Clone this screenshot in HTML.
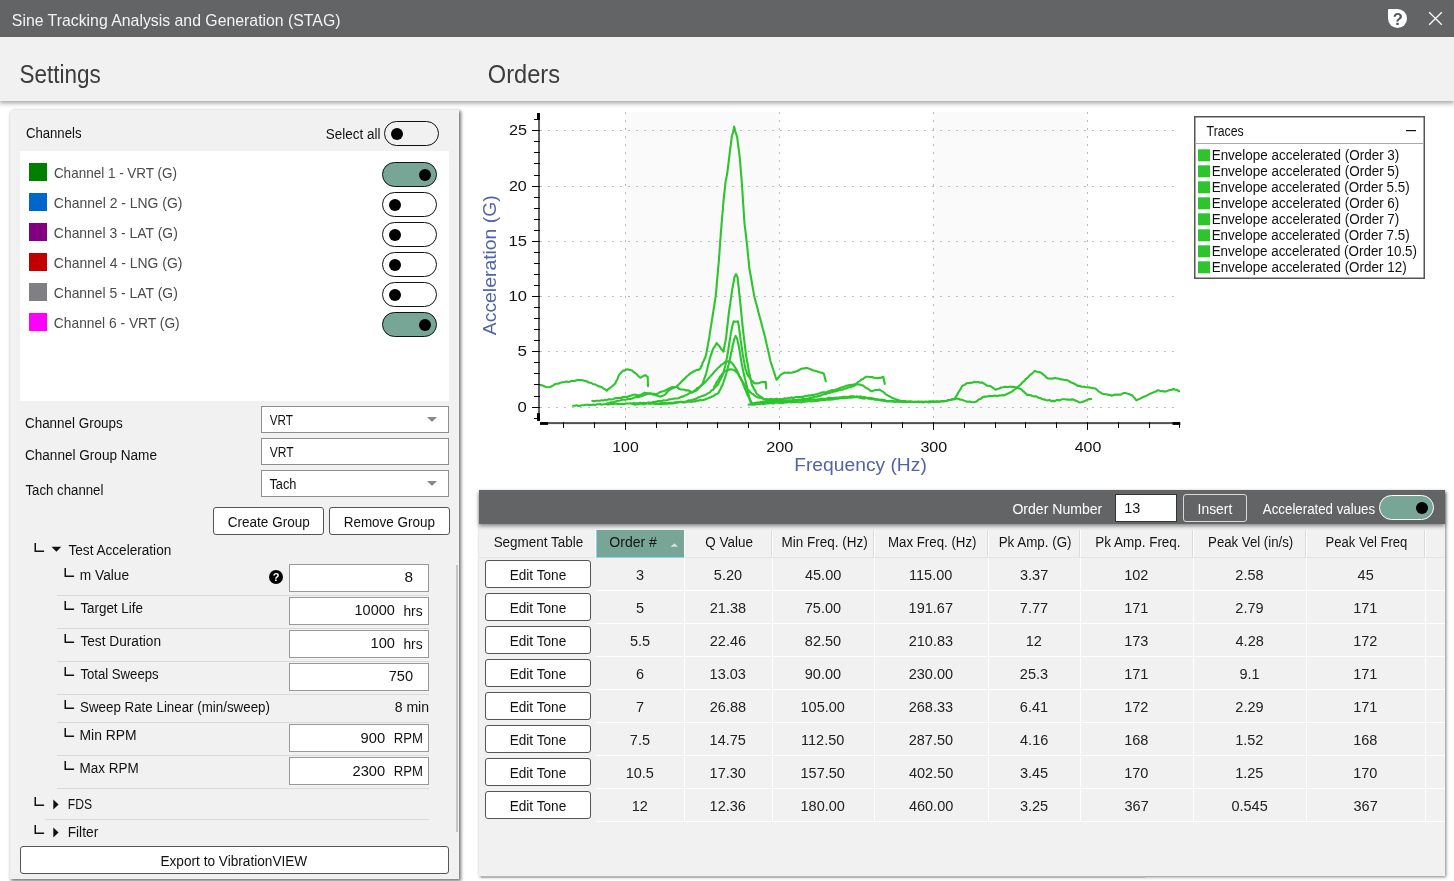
<!DOCTYPE html>
<html><head><meta charset="utf-8"><title>STAG</title>
<style>
*{box-sizing:border-box;margin:0;padding:0}
html,body{width:1454px;height:881px;overflow:hidden;background:#fff}
body{position:relative;font-family:"Liberation Sans",sans-serif;font-size:14px;color:#111}
#root{position:absolute;left:0;top:0;width:1454px;height:881px;will-change:transform}
.abs{position:absolute}
.t{position:absolute;white-space:nowrap;line-height:1;transform-origin:0 50%}
#titlebar{left:0;top:0;width:1454px;height:37px;background:#636466;z-index:2}
#header{left:0;top:37px;width:1454px;height:64px;background:#f1f1f1;box-shadow:0 1px 5px 1px rgba(0,0,0,.38)}
#settings{left:10px;top:110px;width:449px;height:768.5px;background:#f1f1f1;box-shadow:1.5px 1.5px 3.5px rgba(0,0,0,.55);border-radius:4px 0 0 0}
#chlist{left:20px;top:151px;width:429px;height:250px;background:#fff}
.sw{position:absolute;left:29px;width:18px;height:18px}
.tog{position:absolute;width:55px;height:25px;border:1px solid #111;border-radius:13px;background:#fff}
.tog i{position:absolute;top:5.5px;left:6px;width:12px;height:12px;border-radius:50%;background:#000}
.tog.on{background:#77a697}
.tog.on i{left:36px}
.box{position:absolute;background:#fff;border:1px solid #8e8e8e}
.btn{position:absolute;background:#fff;border:1px solid #555;border-radius:3px}
.sep{position:absolute;height:1px;background:#d9d9d9}
.arrow{position:absolute;width:0;height:0;border-left:5px solid transparent;border-right:5px solid transparent;border-top:5px solid #8a8a8a}
</style></head>
<body>
<div id="root">
<div id="titlebar" class="abs"></div>
<div class="t" style="left:11px;top:11px;font-size:17px;color:#f4f4f4;transform:translate(0.84px,0.50px) scaleX(0.9308);z-index:3;">Sine Tracking Analysis and Generation (STAG)</div>
<div class="abs" style="z-index:3;left:1388px;top:9px;width:19px;height:19px;background:#fff;border-radius:1px 10px 10px 10px"></div>
<div class="t" style="left:1392px;top:10px;font-size:16.5px;color:#55565a;transform:translate(0.65px,0.95px) scaleX(1.0000);font-weight:bold;z-index:3;">?</div>
<svg class="abs" style="z-index:3;left:1426px;top:9px" width="20" height="20" viewBox="0 0 20 20"><path d="M3.2 3.2 L15.8 15.8 M15.8 3.2 L3.2 15.8" stroke="#fff" stroke-width="1.3" fill="none"/></svg>
<div id="header" class="abs"></div>
<div class="t" style="left:19px;top:61px;font-size:25.5px;color:#3c3c3c;transform:translate(0.54px,0.76px) scaleX(0.8819);">Settings</div>
<div class="t" style="left:487px;top:61px;font-size:25.5px;color:#3c3c3c;transform:translate(0.79px,0.76px) scaleX(0.9267);">Orders</div>
<div id="settings" class="abs"></div>
<div class="t" style="left:25px;top:125px;font-size:14px;color:#111;transform:translate(0.89px,0.57px) scaleX(0.9403);">Channels</div>
<div class="t" style="left:325px;top:127px;font-size:14px;color:#111;transform:translate(0.85px,0.17px) scaleX(0.9602);">Select all</div>
<div class="tog" style="left:384px;top:121px;background:transparent"><i></i></div>
<div id="chlist" class="abs"></div>
<div class="sw" style="top:163px;background:#008000"></div>
<div class="t" style="left:53px;top:165px;font-size:14.6px;color:#4a4a4a;transform:translate(0.88px,0.78px) scaleX(0.9244);">Channel 1 - VRT (G)</div>
<div class="tog on" style="left:382px;top:162px"><i></i></div>
<div class="sw" style="top:193px;background:#0066cc"></div>
<div class="t" style="left:53px;top:195px;font-size:14.6px;color:#4a4a4a;transform:translate(0.85px,0.78px) scaleX(0.9553);">Channel 2 - LNG (G)</div>
<div class="tog" style="left:382px;top:192px"><i></i></div>
<div class="sw" style="top:223px;background:#800080"></div>
<div class="t" style="left:53px;top:225px;font-size:14.6px;color:#4a4a4a;transform:translate(0.85px,0.78px) scaleX(0.9529);">Channel 3 - LAT (G)</div>
<div class="tog" style="left:382px;top:222px"><i></i></div>
<div class="sw" style="top:253px;background:#c00000"></div>
<div class="t" style="left:53px;top:255px;font-size:14.6px;color:#4a4a4a;transform:translate(0.85px,0.78px) scaleX(0.9553);">Channel 4 - LNG (G)</div>
<div class="tog" style="left:382px;top:252px"><i></i></div>
<div class="sw" style="top:283px;background:#808084"></div>
<div class="t" style="left:53px;top:285px;font-size:14.6px;color:#4a4a4a;transform:translate(0.85px,0.78px) scaleX(0.9529);">Channel 5 - LAT (G)</div>
<div class="tog" style="left:382px;top:282px"><i></i></div>
<div class="sw" style="top:313px;background:#ff00ff"></div>
<div class="t" style="left:53px;top:315px;font-size:14.6px;color:#4a4a4a;transform:translate(0.86px,0.78px) scaleX(0.9441);">Channel 6 - VRT (G)</div>
<div class="tog on" style="left:382px;top:312px"><i></i></div>
<div class="t" style="left:24px;top:416px;font-size:14px;color:#111;transform:translate(0.98px,0.27px) scaleX(0.9590);">Channel Groups</div>
<div class="t" style="left:24px;top:448px;font-size:14px;color:#111;transform:translate(0.97px,0.27px) scaleX(0.9689);">Channel Group Name</div>
<div class="t" style="left:25px;top:483px;font-size:14px;color:#111;transform:translate(0.49px,0.27px) scaleX(0.9442);">Tach channel</div>
<div class="box" style="left:261px;top:406px;width:188px;height:27px"></div>
<div class="box" style="left:261px;top:438px;width:188px;height:27px"></div>
<div class="box" style="left:261px;top:470px;width:188px;height:27px"></div>
<div class="t" style="left:269px;top:413px;font-size:14px;color:#111;transform:translate(0.65px,0.17px) scaleX(0.8345);">VRT</div>
<div class="t" style="left:269px;top:445px;font-size:14px;color:#111;transform:translate(0.65px,0.07px) scaleX(0.8601);">VRT</div>
<div class="t" style="left:269px;top:477px;font-size:14px;color:#111;transform:translate(0.39px,0.37px) scaleX(0.9148);">Tach</div>
<div class="arrow" style="left:427px;top:417px"></div>
<div class="arrow" style="left:427px;top:481px"></div>
<div class="btn" style="left:213px;top:507px;width:111px;height:28px"></div>
<div class="btn" style="left:329px;top:507px;width:121px;height:28px"></div>
<div class="t" style="left:227px;top:515px;font-size:14px;color:#111;transform:translate(0.77px,0.27px) scaleX(0.9667);">Create Group</div>
<div class="t" style="left:343px;top:515px;font-size:14px;color:#111;transform:translate(0.67px,0.27px) scaleX(0.9620);">Remove Group</div>
<svg class="abs" style="left:34px;top:543px" width="11" height="10" viewBox="0 0 11 10"><path d="M1.25 0 V8.35 H10.1" stroke="#111" stroke-width="1.5" fill="none"/></svg>
<svg class="abs" style="left:51px;top:546px" width="11" height="7"><path d="M0.5 0.8 H10.3 L5.4 5.8 Z" fill="#111"/></svg>
<div class="t" style="left:68px;top:543px;font-size:14px;color:#111;transform:translate(0.48px,0.27px) scaleX(0.9712);">Test Acceleration</div>
<svg class="abs" style="left:64px;top:568px" width="11" height="10" viewBox="0 0 11 10"><path d="M1.25 0 V8.35 H10.1" stroke="#111" stroke-width="1.5" fill="none"/></svg>
<div class="t" style="left:79px;top:568px;font-size:14px;color:#111;transform:translate(0.76px,0.07px) scaleX(0.9804);">m Value</div>
<svg class="abs" style="left:64px;top:601px" width="11" height="10" viewBox="0 0 11 10"><path d="M1.25 0 V8.35 H10.1" stroke="#111" stroke-width="1.5" fill="none"/></svg>
<div class="t" style="left:80px;top:601px;font-size:14px;color:#111;transform:translate(0.38px,0.37px) scaleX(0.9560);">Target Life</div>
<svg class="abs" style="left:64px;top:634px" width="11" height="10" viewBox="0 0 11 10"><path d="M1.25 0 V8.35 H10.1" stroke="#111" stroke-width="1.5" fill="none"/></svg>
<div class="t" style="left:80px;top:634px;font-size:14px;color:#111;transform:translate(0.38px,0.37px) scaleX(0.9774);">Test Duration</div>
<svg class="abs" style="left:64px;top:667px" width="11" height="10" viewBox="0 0 11 10"><path d="M1.25 0 V8.35 H10.1" stroke="#111" stroke-width="1.5" fill="none"/></svg>
<div class="t" style="left:80px;top:667px;font-size:14px;color:#111;transform:translate(0.39px,0.47px) scaleX(0.9391);">Total Sweeps</div>
<svg class="abs" style="left:64px;top:700px" width="11" height="10" viewBox="0 0 11 10"><path d="M1.25 0 V8.35 H10.1" stroke="#111" stroke-width="1.5" fill="none"/></svg>
<div class="t" style="left:80px;top:700px;font-size:14px;color:#111;transform:translate(0.05px,0.17px) scaleX(0.9532);">Sweep Rate Linear (min/sweep)</div>
<svg class="abs" style="left:64px;top:728px" width="11" height="10" viewBox="0 0 11 10"><path d="M1.25 0 V8.35 H10.1" stroke="#111" stroke-width="1.5" fill="none"/></svg>
<div class="t" style="left:79px;top:728px;font-size:14px;color:#111;transform:translate(0.54px,0.17px) scaleX(0.9915);">Min RPM</div>
<svg class="abs" style="left:64px;top:761px" width="11" height="10" viewBox="0 0 11 10"><path d="M1.25 0 V8.35 H10.1" stroke="#111" stroke-width="1.5" fill="none"/></svg>
<div class="t" style="left:79px;top:761px;font-size:14px;color:#111;transform:translate(0.57px,0.17px) scaleX(0.9625);">Max RPM</div>
<div class="box" style="left:289px;top:564px;width:140px;height:28px;border-color:#999"></div>
<div class="box" style="left:289px;top:597px;width:140px;height:28px;border-color:#999"></div>
<div class="box" style="left:289px;top:630px;width:140px;height:28px;border-color:#999"></div>
<div class="box" style="left:289px;top:663px;width:140px;height:28px;border-color:#999"></div>
<div class="box" style="left:289px;top:724px;width:140px;height:28px;border-color:#999"></div>
<div class="box" style="left:289px;top:757px;width:140px;height:28px;border-color:#999"></div>
<div class="t" style="left:404px;top:570px;font-size:14.6px;color:#111;transform:translate(0.59px,0.28px) scaleX(1.0526);">8</div>
<div class="t" style="left:354px;top:603px;font-size:14.6px;color:#111;transform:translate(0.51px,0.48px) scaleX(0.9928);">10000</div>
<div class="t" style="left:403px;top:604px;font-size:14px;color:#111;transform:translate(0.40px,0.17px) scaleX(0.9856);">hrs</div>
<div class="t" style="left:370px;top:636px;font-size:14.6px;color:#111;transform:translate(0.51px,0.48px) scaleX(0.9999);">100</div>
<div class="t" style="left:403px;top:637px;font-size:14px;color:#111;transform:translate(0.40px,0.17px) scaleX(0.9856);">hrs</div>
<div class="t" style="left:388px;top:669px;font-size:14.6px;color:#111;transform:translate(0.67px,0.28px) scaleX(1.0014);">750</div>
<div class="t" style="left:360px;top:730px;font-size:14.6px;color:#111;transform:translate(0.54px,0.68px) scaleX(1.0112);">900</div>
<div class="t" style="left:393px;top:730px;font-size:14px;color:#111;transform:translate(0.75px,0.97px) scaleX(0.9374);">RPM</div>
<div class="t" style="left:352px;top:763px;font-size:14.6px;color:#111;transform:translate(0.47px,0.68px) scaleX(1.0050);">2300</div>
<div class="t" style="left:393px;top:763px;font-size:14px;color:#111;transform:translate(0.75px,0.97px) scaleX(0.9374);">RPM</div>
<div class="t" style="left:394px;top:700px;font-size:14px;color:#111;transform:translate(0.64px,0.47px) scaleX(1.0052);">8 min</div>
<div class="sep" style="left:57px;top:595px;width:372px"></div>
<div class="sep" style="left:57px;top:628px;width:372px"></div>
<div class="sep" style="left:57px;top:661px;width:372px"></div>
<div class="sep" style="left:57px;top:694px;width:372px"></div>
<div class="sep" style="left:57px;top:722px;width:372px"></div>
<div class="sep" style="left:57px;top:755px;width:372px"></div>
<div class="sep" style="left:57px;top:788px;width:372px"></div>
<div class="sep" style="left:45px;top:819px;width:384px"></div>
<div class="abs" style="left:269px;top:570px;width:14px;height:14px;border-radius:50%;background:#000"></div>
<div class="t" style="left:272px;top:571px;font-size:11px;color:#fff;transform:translate(0.80px,0.83px) scaleX(1.0000);font-weight:bold;">?</div>
<svg class="abs" style="left:34px;top:797px" width="11" height="10" viewBox="0 0 11 10"><path d="M1.25 0 V8.35 H10.1" stroke="#111" stroke-width="1.5" fill="none"/></svg>
<svg class="abs" style="left:53px;top:798.5px" width="6" height="11"><path d="M0.3 0.5 V10.5 L5.6 5.5 Z" fill="#111"/></svg>
<div class="t" style="left:67px;top:797px;font-size:14px;color:#111;transform:translate(0.78px,0.07px) scaleX(0.8663);">FDS</div>
<svg class="abs" style="left:34px;top:825px" width="11" height="10" viewBox="0 0 11 10"><path d="M1.25 0 V8.35 H10.1" stroke="#111" stroke-width="1.5" fill="none"/></svg>
<svg class="abs" style="left:53px;top:826.5px" width="6" height="11"><path d="M0.3 0.5 V10.5 L5.6 5.5 Z" fill="#111"/></svg>
<div class="t" style="left:67px;top:825px;font-size:14px;color:#111;transform:translate(0.65px,0.17px) scaleX(0.9826);">Filter</div>
<div class="abs" style="left:456px;top:565px;width:2px;height:267px;background:#c6c6c6"></div>
<div class="btn" style="left:20px;top:846px;width:429px;height:28px"></div>
<div class="t" style="left:160px;top:854px;font-size:14px;color:#111;transform:translate(0.46px,0.37px) scaleX(0.9740);">Export to VibrationVIEW</div>
<svg class="abs" style="left:470px;top:105px" width="984" height="385" viewBox="470 105 984 385" font-family="Liberation Sans, sans-serif">
<rect x="625" y="112" width="154.5" height="308.5" fill="#fafafa"/>
<rect x="933" y="112" width="154.5" height="308.5" fill="#fafafa"/>
<g stroke="#bcbcbc" stroke-width="1" shape-rendering="crispEdges"><line x1="540" x2="1176" y1="407.5" y2="407.5" stroke-dasharray="2 6"/><line x1="540" x2="1176" y1="351.5" y2="351.5" stroke-dasharray="2 6"/><line x1="540" x2="1176" y1="296.5" y2="296.5" stroke-dasharray="2 6"/><line x1="540" x2="1176" y1="241.5" y2="241.5" stroke-dasharray="2 6"/><line x1="540" x2="1176" y1="186.5" y2="186.5" stroke-dasharray="2 6"/><line x1="540" x2="1176" y1="130.5" y2="130.5" stroke-dasharray="2 6"/><line x1="625.5" x2="625.5" y1="112" y2="422" stroke-dasharray="2 6"/><line x1="779.5" x2="779.5" y1="112" y2="422" stroke-dasharray="2 6"/><line x1="933.5" x2="933.5" y1="112" y2="422" stroke-dasharray="2 6"/><line x1="1087.5" x2="1087.5" y1="112" y2="422" stroke-dasharray="2 6"/></g>
<g fill="none" stroke="#2dc42d" stroke-width="2.1" stroke-linejoin="round" stroke-linecap="round">
<polyline points="540.5,385.1 542.4,385.4 544.3,386.3 546.2,387.0 548.1,387.2 550.0,387.0 551.6,386.3 553.3,385.3 554.9,384.2 556.5,383.8 558.2,383.7 559.8,383.1 561.5,382.4 563.1,382.3 564.8,382.0 566.4,381.4 568.1,382.0 569.7,381.8 571.4,381.0 573.0,380.8 574.7,381.0 576.3,380.3 578.0,380.0 579.6,380.1 581.7,380.1 583.7,380.6 585.8,381.0 587.5,381.8 589.3,382.7 591.0,382.7 592.8,384.0 594.5,384.2 596.0,384.9 597.6,385.8 599.2,386.4 600.7,386.7 602.2,387.4 603.8,388.8 605.3,389.4 606.8,390.7 608.3,389.0 609.7,388.1 611.2,387.0 612.6,386.0 614.1,384.5 615.5,383.2 616.2,381.2 617.0,380.1 617.7,378.4 618.5,376.1 619.2,374.6 620.5,373.2 621.7,372.1 623.0,370.6 624.6,370.6 626.3,369.5 627.9,369.4 630.0,370.0 632.2,370.6 633.7,372.2 635.1,373.0 636.6,374.0 637.8,375.4 639.1,376.7 640.3,377.7 641.9,376.9 643.6,375.8 645.2,375.2 647.7,377.0 647.8,378.9 647.8,380.7 647.9,382.6 647.9,384.4 648.0,386.3"/>
<polyline points="573.0,405.8 574.8,405.8 576.5,405.3 578.3,405.9 580.1,405.8 581.8,405.3 583.6,405.3 585.4,404.8 587.1,404.7 588.9,404.9 590.5,404.7 592.1,405.0 593.7,404.5 595.3,405.1 596.9,404.2 598.5,404.3 600.1,404.1 601.7,404.7 603.3,404.3 605.0,404.3 606.6,404.1 608.2,404.4 609.8,404.1 611.4,403.9 613.0,404.0 614.6,403.8 616.2,403.6 617.8,403.9 619.4,404.1 621.0,404.0 622.6,403.9 624.2,404.0 625.8,403.6 627.4,403.5 629.0,403.5 630.6,403.4 632.2,403.6 633.9,403.0 635.5,403.3 637.1,403.3 638.7,403.1 640.3,402.8 641.9,403.3 643.5,402.7 645.1,403.1 646.7,403.0 648.3,402.8 649.9,402.8 651.5,403.0 653.1,403.0 654.7,403.2 656.3,403.8 657.9,403.9 659.5,403.7 661.1,403.9 662.7,403.9 664.3,403.7 665.9,403.6 667.5,403.8 669.1,403.2 670.7,403.6 672.3,403.4 673.9,403.3 675.5,403.0 677.1,402.3 678.7,402.1 680.3,401.7 681.9,401.8 683.6,402.0 685.2,401.7 686.8,401.4 688.4,400.4 690.0,400.5 691.7,400.1 693.3,399.6 695.0,399.0 696.7,398.4 698.3,397.3 700.0,397.0 701.5,396.0 703.0,395.9 704.5,395.2 706.0,394.6 707.5,393.5 709.0,392.9 710.2,392.1 711.5,390.3 712.7,390.0 713.9,388.8 715.1,387.2 716.4,385.8 717.6,385.1 718.4,383.5 719.2,382.1 720.0,380.2 720.9,378.3 721.7,376.9 722.5,375.5 723.0,373.9 723.5,372.3 724.0,370.6 724.4,369.0 724.9,367.4 725.4,365.8 725.7,364.1 726.0,362.4 726.3,360.7 726.6,359.1 727.0,357.4 727.3,355.7 727.6,354.0 727.9,352.3 728.1,350.7 728.4,349.1 728.6,347.6 728.9,346.0 729.1,344.4 729.4,342.8 729.6,341.2 729.9,339.6 730.1,338.1 730.4,336.5 730.6,334.9 730.9,333.1 731.3,331.3 731.6,329.6 732.0,327.8 732.3,326.0 732.8,324.5 733.2,322.9 733.7,321.4 735.8,321.7 737.9,321.4 738.3,323.3 738.6,325.1 739.0,327.0 739.2,328.6 739.4,330.3 739.6,331.9 739.8,333.6 740.0,335.2 740.2,336.9 740.5,338.6 740.7,340.4 741.0,342.1 741.2,343.8 741.5,345.5 741.7,347.3 742.0,349.0 742.2,350.7 742.5,352.5 742.7,354.2 743.0,355.9 743.3,357.6 743.7,359.4 744.0,361.1 744.3,362.8 744.6,364.5 745.0,366.3 745.3,368.0 745.6,369.7 746.4,371.3 747.2,374.0 748.0,375.5 749.0,376.8 750.0,378.2 751.0,380.0 752.6,381.3 754.3,383.2 756.3,383.4 758.4,383.2 760.4,382.6 762.6,382.1 764.9,382.0 765.7,381.9 765.8,383.5 766.0,385.1 766.1,386.8 766.2,388.4"/>
<polyline points="606.0,404.0 607.7,403.2 609.4,403.2 611.1,402.3 612.7,402.4 614.4,401.8 616.1,401.2 617.8,400.8 619.4,400.6 621.0,400.3 622.6,399.6 624.2,399.8 625.8,399.6 627.4,399.2 629.0,398.9 630.5,398.9 632.1,398.4 633.7,397.8 635.3,397.3 636.9,396.9 638.4,397.2 640.0,396.6 641.7,396.2 643.3,395.6 645.0,394.8 646.7,394.3 648.3,393.5 650.0,393.2 652.0,393.7 654.0,393.7 656.0,394.5 658.0,393.4 660.0,392.0 662.0,391.6 664.0,391.0 666.0,390.3 667.6,389.2 669.2,388.3 670.9,387.7 672.5,387.0 674.1,387.2 675.8,387.0 677.4,387.0 679.3,389.0 681.0,389.5 682.8,389.5 684.5,389.7 686.3,390.4 688.0,390.3 690.0,391.2 692.0,392.7 693.7,391.5 695.3,391.0 697.0,390.0 698.1,388.9 699.2,387.5 700.3,386.5 701.4,385.1 702.5,384.0 703.1,382.3 703.7,380.7 704.2,379.0 704.8,377.3 705.4,375.7 706.0,374.0 706.4,372.4 706.8,370.8 707.2,369.2 707.6,367.6 708.0,366.0 708.4,364.4 708.8,362.8 709.2,361.2 709.6,359.6 710.0,358.0 710.6,356.2 711.2,354.4 711.8,352.6 712.4,350.8 713.0,349.0 713.9,347.7 714.9,346.3 715.8,344.8 716.7,343.0 717.8,344.5 718.9,345.6 720.0,347.0 721.1,348.9 722.3,350.0 723.4,351.6 723.7,349.9 724.0,348.2 724.4,346.5 724.7,344.8 725.0,343.1 725.4,341.4 725.7,339.7 726.0,338.0 726.2,336.4 726.4,334.8 726.6,333.1 726.8,331.5 726.9,329.9 727.1,328.2 727.3,326.6 727.5,325.0 727.7,323.4 727.9,321.8 728.1,320.1 728.2,318.5 728.4,316.9 728.6,315.2 728.8,313.6 729.0,312.0 729.2,310.4 729.5,308.8 729.7,307.2 729.9,305.5 730.2,303.9 730.4,302.3 730.6,300.7 730.8,299.1 731.1,297.5 731.3,295.8 731.5,294.2 731.8,292.6 732.0,291.0 732.3,289.2 732.6,287.5 732.9,285.8 733.2,284.0 733.6,282.2 733.9,280.5 734.2,278.8 734.5,277.0 736.0,274.2 737.5,277.0 737.7,278.6 737.9,280.3 738.0,281.9 738.2,283.6 738.4,285.2 738.6,286.9 738.8,288.5 738.9,290.1 739.1,291.8 739.3,293.4 739.5,295.1 739.6,296.7 739.8,298.4 740.0,300.0 740.2,301.7 740.3,303.3 740.5,305.0 740.7,306.7 740.8,308.3 741.0,310.0 741.2,311.7 741.3,313.3 741.5,315.0 741.7,316.7 741.8,318.3 742.0,320.0 742.2,321.7 742.3,323.3 742.5,325.0 742.7,326.7 742.8,328.3 743.0,330.0 743.2,331.7 743.4,333.3 743.6,335.0 743.8,336.7 744.0,338.3 744.2,340.0 744.4,341.7 744.6,343.3 744.8,345.0 745.0,346.7 745.2,348.3 745.4,350.0 745.6,351.7 745.8,353.3 746.0,355.0 746.3,356.7 746.6,358.4 746.9,360.1 747.2,361.8 747.5,363.5 747.8,365.2 748.1,366.9 748.4,368.6 748.7,370.3 749.0,372.0 749.4,373.6 749.8,375.2 750.1,376.9 750.5,378.5 750.9,380.1 751.2,381.8 751.6,383.4 752.0,385.0 752.8,386.6 753.7,388.3 754.5,389.7 755.3,390.9 756.2,392.7 757.0,394.0 758.3,395.0 759.7,396.2 761.0,396.9 762.3,397.7 763.7,399.0 765.0,399.5 766.7,399.9 768.3,400.1 770.0,400.9 771.7,401.2 773.3,400.9 775.0,401.5 776.7,400.9 778.3,401.5 780.0,401.3 781.7,400.7 783.3,400.4 785.0,400.5 786.6,400.8 788.2,401.1 789.8,400.5 791.4,400.9 793.0,401.1 794.6,400.8 796.2,401.2"/>
<polyline points="592.3,400.8 594.1,401.2 596.0,400.7 597.8,400.8 599.6,400.8 601.5,400.3 603.3,400.5 604.9,399.9 606.5,400.1 608.1,399.4 609.7,399.3 611.4,399.5 613.0,399.2 614.6,398.3 616.2,398.0 617.8,398.1 619.4,397.7 621.0,398.0 622.6,397.1 624.2,397.1 625.8,396.7 627.4,396.9 629.3,395.9 631.3,395.5 633.2,394.8 635.1,394.7 637.1,395.1 639.0,395.3 640.9,394.7 642.8,393.8 644.7,392.8 646.4,393.0 648.1,393.6 649.8,393.6 651.5,393.8 653.1,394.6 654.7,394.6 656.3,395.3 658.2,395.9 660.1,396.7 662.0,396.1 664.0,395.3 665.2,394.5 666.4,393.0 667.6,391.6 668.8,390.4 670.5,389.4 672.1,388.6 673.8,387.7 675.5,387.1 677.0,386.2 678.4,384.8 679.8,383.5 681.3,381.8 682.8,380.4 684.3,379.1 685.8,377.4 687.2,376.0 688.7,375.0 690.1,373.5 691.6,372.6 693.3,371.7 695.1,370.8 696.8,369.9 698.6,369.9 700.3,368.7 700.9,366.8 701.6,366.0 702.2,364.4 702.8,362.3 703.5,361.2 704.1,360.1 704.7,358.6 705.4,356.8 706.0,355.2 706.3,353.6 706.6,351.9 706.9,350.3 707.2,348.6 707.5,347.0 707.8,345.4 708.1,343.7 708.4,342.1 708.7,340.4 709.0,338.8 709.3,337.2 709.5,335.5 709.8,333.9 710.0,332.3 710.3,330.6 710.5,329.0 710.8,327.4 711.1,325.7 711.3,324.1 711.6,322.5 711.8,320.8 712.1,319.2 712.4,317.6 712.6,315.9 712.9,314.3 713.1,312.6 713.4,311.0 713.6,309.4 713.9,307.7 714.2,306.1 714.4,304.5 714.7,302.8 714.9,301.2 715.2,299.6 715.4,297.9 715.7,296.3 715.8,294.7 716.0,293.1 716.1,291.4 716.3,289.8 716.4,288.2 716.6,286.6 716.7,284.9 716.8,283.3 717.0,281.7 717.1,280.1 717.3,278.5 717.4,276.8 717.6,275.2 717.7,273.6 717.9,272.0 718.0,270.4 718.1,268.7 718.3,267.1 718.4,265.5 718.6,263.9 718.7,262.2 718.9,260.6 719.0,259.0 719.1,257.3 719.2,255.6 719.4,253.9 719.5,252.2 719.6,250.5 719.7,248.8 719.8,247.1 720.0,245.4 720.1,243.7 720.2,242.0 720.3,240.3 720.4,238.6 720.6,236.9 720.7,235.2 720.8,233.5 720.9,231.8 721.1,230.1 721.2,228.5 721.4,226.8 721.5,225.1 721.6,223.4 721.8,221.8 721.9,220.1 722.0,218.4 722.2,216.7 722.3,215.1 722.5,213.4 722.6,211.7 722.8,209.9 722.9,208.1 723.0,206.2 723.2,204.4 723.4,202.6 723.5,200.8 723.7,199.1 723.9,197.5 724.0,195.8 724.2,194.1 724.4,192.5 724.6,190.8 724.8,189.1 725.0,187.5 725.2,185.8 725.3,184.1 725.5,182.5 725.7,180.8 726.1,179.0 726.5,177.2 726.8,175.4 727.2,173.6 727.4,172.0 727.6,170.4 727.8,168.7 728.0,167.1 728.2,165.5 728.4,163.9 728.6,162.2 728.8,160.6 729.0,159.0 729.2,157.3 729.4,155.6 729.6,154.0 729.8,152.3 730.0,150.6 730.2,148.9 730.5,147.3 730.7,145.6 730.9,143.9 731.1,142.2 731.3,140.6 731.5,138.9 731.7,137.2 732.1,135.6 732.5,134.1 733.0,132.6 733.4,131.0 733.8,128.8 734.1,126.5 734.7,128.8 735.2,131.0 735.7,132.6 736.2,134.1 736.7,135.6 737.2,137.2 737.4,138.9 737.6,140.6 737.8,142.2 738.0,143.9 738.2,145.6 738.4,147.3 738.7,148.9 738.9,150.6 739.1,152.3 739.3,154.0 739.5,155.6 739.7,157.3 739.9,159.0 740.0,160.6 740.2,162.2 740.3,163.8 740.4,165.4 740.5,167.0 740.7,168.6 740.8,170.2 740.9,171.8 741.1,173.5 741.2,175.1 741.3,176.7 741.5,178.3 741.6,179.9 741.7,181.5 741.8,183.1 742.0,184.7 742.1,186.3 742.2,188.0 742.3,189.6 742.4,191.2 742.5,192.9 742.6,194.6 742.7,196.2 742.8,197.8 742.9,199.5 743.0,201.2 743.1,202.8 743.2,204.4 743.4,206.1 743.5,207.8 743.6,209.4 743.7,211.1 743.8,212.7 743.9,214.3 744.0,216.0 744.1,217.7 744.2,219.3 744.3,220.9 744.4,222.6 744.6,224.3 744.8,226.0 745.0,227.7 745.2,229.3 745.4,231.0 745.6,232.7 745.8,234.4 746.0,236.1 746.2,237.8 746.4,239.5 746.6,241.1 746.8,242.8 747.0,244.5 747.2,246.2 747.4,247.9 747.5,249.6 747.7,251.2 747.8,252.9 748.0,254.6 748.2,256.3 748.3,257.9 748.5,259.6 748.7,261.3 748.8,263.0 749.0,264.6 749.1,266.3 749.3,268.0 749.6,269.7 749.9,271.3 750.2,273.0 750.5,274.7 750.8,276.3 751.1,278.0 751.4,279.7 751.7,281.3 751.9,283.0 752.2,284.6 752.5,286.3 752.8,288.0 753.1,289.6 753.4,291.3 753.7,293.0 754.0,294.6 754.3,296.3 754.7,297.9 755.1,299.4 755.5,301.0 755.9,302.5 756.4,304.1 756.8,305.7 757.2,307.2 757.6,308.8 758.0,310.4 758.4,311.9 758.8,313.5 759.2,315.0 759.6,316.6 760.1,318.2 760.5,319.7 760.9,321.3 761.3,322.8 761.7,324.4 762.1,326.0 762.5,327.5 762.9,329.1 763.4,330.7 763.8,332.2 764.2,333.8 764.6,335.3 765.0,336.9 765.4,338.5 765.7,340.0 766.1,341.6 766.4,343.2 766.8,344.7 767.1,346.3 767.5,347.9 767.9,349.4 768.2,351.0 768.6,352.6 768.9,354.2 769.3,355.7 769.6,357.3 770.0,358.9 770.3,360.4 770.7,362.0 771.2,363.6 771.8,365.2 772.3,366.8 772.8,368.4 773.3,370.0 773.9,371.7 774.4,373.3 774.9,374.9 775.4,376.5 776.0,378.1 776.5,379.7 777.7,378.5 778.8,377.1 780.0,375.5 781.4,374.3 782.8,373.6 784.2,372.6 786.1,372.8 788.1,372.6 790.0,372.8 791.9,372.7 793.9,371.9 795.8,371.6 797.9,370.8 800.0,369.5 801.8,368.6 803.7,368.5 805.5,368.1 807.8,368.1 810.0,369.0 811.7,369.7 813.4,370.5 815.1,370.7 816.8,371.3 818.6,371.9 820.3,372.6 822.1,372.8 823.8,373.6 824.3,375.5 824.8,377.5 825.3,379.4 825.8,381.3"/>
<polyline points="633.0,404.2 634.7,404.6 636.4,404.4 638.1,404.3 639.8,403.8 641.4,403.8 643.1,404.1 644.8,404.1 646.5,403.4 648.2,403.5 649.9,404.1 651.6,403.3 653.2,403.7 654.9,403.4 656.6,403.6 658.3,403.8 660.0,403.4 661.7,403.4 663.3,403.1 665.0,403.0 666.7,403.2 668.3,403.1 670.0,402.8 671.7,402.7 673.3,402.7 675.0,402.4 676.7,402.2 678.3,402.5 680.0,402.0 681.7,402.3 683.3,402.4 685.0,402.4 686.7,401.8 688.3,401.8 690.0,401.8 691.7,401.9 693.3,401.2 695.0,401.5 696.7,400.5 698.3,400.8 700.0,399.9 701.7,400.2 703.3,400.0 705.0,399.5 706.8,398.8 708.5,398.1 710.2,397.6 712.0,396.5 713.6,396.0 715.3,394.4 717.0,393.8 718.6,392.9 719.4,390.9 720.2,389.7 720.9,387.9 721.7,386.4 722.5,385.1 723.0,383.5 723.6,381.8 724.1,380.2 724.7,378.5 725.2,376.9 725.8,375.2 726.3,373.6 726.7,371.9 727.2,370.2 727.6,368.5 728.0,366.8 728.5,365.1 728.9,363.4 729.4,361.7 729.8,360.0 730.1,358.3 730.5,356.6 730.8,354.9 731.1,353.2 731.5,351.6 731.8,349.9 732.2,348.2 732.5,346.5 732.9,344.6 733.4,342.8 733.8,340.9 734.2,339.0 734.9,337.6 735.6,335.9 736.4,337.1 737.2,339.0 737.6,340.9 738.0,342.8 738.5,344.6 738.9,346.5 739.2,348.2 739.5,349.9 739.7,351.7 740.0,353.4 740.3,355.1 740.6,356.8 740.8,358.6 741.1,360.3 741.4,362.0 741.7,363.7 742.1,365.3 742.4,367.0 742.7,368.6 743.0,370.3 743.4,371.9 743.7,373.6 744.1,375.2 744.5,376.9 744.9,378.5 745.4,380.2 745.8,381.8 746.2,383.5 746.6,385.1 747.0,386.8 747.3,388.5 747.7,390.2 748.0,391.9 748.4,393.5 748.8,395.2 749.1,396.9 749.5,398.6 750.1,400.5 750.8,402.5 751.4,404.4 753.3,403.5 755.3,402.7 757.2,402.5 759.0,402.7 760.8,402.1 762.6,401.9 764.4,402.3 766.2,402.3 768.0,402.0 769.7,402.0 771.4,401.9 773.1,401.8 774.8,401.9 776.5,401.4 778.2,401.8 779.8,401.6 781.5,401.7 783.2,401.7 784.9,401.5 786.6,401.2 788.3,401.1 790.0,401.0 791.7,401.0 793.3,400.6 795.0,399.8 796.7,400.4 798.3,399.5 800.0,399.5 801.7,399.2 803.3,398.6 805.0,398.8 806.7,398.6 808.3,398.5 810.0,398.0 811.7,397.7 813.4,397.0 815.1,396.8 816.9,396.7 818.6,396.0 820.3,395.7 822.0,395.0 823.7,394.1 825.4,394.3 827.1,393.4 828.9,392.9 830.6,392.6 832.3,392.0 834.0,391.5 835.7,391.4 837.4,390.7 839.1,390.2 840.9,389.7 842.6,389.7 844.3,388.6 846.0,388.5 847.6,387.8 849.1,387.2 850.7,387.1 852.2,386.4 853.8,386.2 855.1,385.1 856.4,383.6 857.7,382.4 859.0,381.5 860.4,380.5 861.8,379.2 863.1,379.0 864.5,377.8 865.9,376.8 867.9,376.8 870.0,377.0 872.0,377.0 873.7,377.8 875.3,377.8 877.0,378.2 879.0,377.9 881.0,377.8 883.3,376.8 883.7,378.6 884.0,380.4 884.4,382.1 884.8,383.9"/>
<polyline points="644.7,403.2 646.4,403.3 648.1,402.6 649.8,402.8 651.5,402.7 653.2,401.9 654.9,402.1 656.5,401.5 658.2,401.1 659.9,401.0 661.6,401.2 663.3,400.4 665.0,400.5 666.7,400.3 668.3,399.7 670.0,399.2 671.7,399.1 673.3,398.7 675.0,398.5 676.7,398.5 678.3,398.2 680.0,397.5 681.5,396.6 683.0,396.6 684.5,395.5 686.0,395.2 687.5,394.3 689.0,393.4 690.5,392.5 692.0,392.0 693.3,391.5 694.7,390.6 696.0,389.4 697.3,388.0 698.7,387.7 700.0,386.5 701.3,385.5 702.7,384.3 704.0,383.2 705.3,381.9 706.7,380.5 708.0,379.0 709.2,377.6 710.3,376.4 711.5,375.0 712.7,373.9 713.8,372.4 715.0,371.0 716.2,370.1 717.4,368.6 718.6,367.5 719.8,366.6 721.0,365.0 722.3,364.3 723.7,363.4 725.0,362.0 726.6,361.8 728.3,361.2 730.1,361.8 732.0,363.0 733.0,364.4 734.0,365.8 735.0,367.3 736.0,369.0 736.8,370.3 737.6,371.8 738.4,373.8 739.2,375.7 740.0,377.0 740.8,378.8 741.7,380.4 742.5,381.6 743.3,382.6 744.2,384.2 745.0,386.0 746.2,387.1 747.5,389.3 748.8,390.3 750.0,392.0 751.5,393.3 753.0,394.2 754.5,395.5 756.0,396.5 757.8,397.4 759.6,397.8 761.4,397.8 763.2,398.9 765.0,399.3 766.7,399.1 768.3,399.7 770.0,399.0 771.7,398.9 773.3,399.5 775.0,399.0 776.7,398.7 778.3,399.3 780.0,399.0 781.7,399.2 783.3,398.7 785.0,398.2 786.7,398.7 788.3,398.0 790.0,397.8 791.7,397.4 793.3,398.0 795.0,397.3 796.7,397.0 798.3,397.0 800.0,397.0 801.7,396.9 803.3,396.9 805.0,395.9 806.7,396.0 808.3,395.4 810.0,395.7 811.7,395.0 813.3,394.9 815.0,394.5 816.7,394.4 818.3,393.8 820.0,393.3 821.7,392.5 823.3,392.3 825.0,392.3 826.7,392.0 828.3,391.5 830.0,391.0 831.7,390.1 833.3,390.2 835.0,389.8 836.7,389.3 838.3,388.7 840.0,388.0 841.5,387.6 843.1,386.9 844.6,386.4 846.2,385.7 847.8,385.6 849.3,385.0 851.0,384.7 852.6,385.0 854.3,384.3 856.0,384.4 857.7,384.4 859.5,384.5 861.2,385.0 862.9,385.4 864.6,386.8 866.3,388.0 868.0,388.8 870.0,390.5 872.0,391.4 874.0,390.3 876.0,390.0 877.8,390.0 879.5,389.6 881.0,390.6 882.5,391.4 884.0,392.5 885.5,394.1 887.1,395.0 888.6,396.0 890.4,396.7 892.2,398.0 894.0,398.6 895.7,399.2 897.5,399.8 899.2,400.5 901.2,400.8 903.1,401.0 905.0,400.9 907.0,401.6 908.8,402.0 910.6,401.6 912.4,401.9 914.2,402.0"/>
<polyline points="714.0,387.0 714.8,385.8 715.6,384.6 716.4,382.4 717.2,381.8 718.0,380.0 719.0,378.8 720.0,376.6 721.0,375.8 722.0,374.0 723.3,373.1 724.7,371.4 726.0,370.5 728.0,370.3 730.0,369.3 732.0,369.5 734.0,370.0 735.3,371.1 736.7,372.5 738.0,373.5 738.8,375.2 739.6,376.7 740.4,377.8 741.2,379.5 742.0,381.0 742.6,382.6 743.2,384.2 743.8,385.8 744.4,387.4 745.0,389.0 745.8,390.4 746.5,392.3 747.2,394.2 748.0,396.0 748.8,397.1 749.6,398.9 750.4,400.8 751.2,401.7 752.0,403.5 754.0,403.6 756.0,403.8 758.0,402.8 760.0,402.8 762.0,402.0 763.6,401.5 765.3,401.5 766.9,401.9 768.5,401.6 770.2,401.6 771.8,401.6 773.5,401.4 775.1,401.2 776.7,400.9 778.4,400.8 780.0,401.0 781.7,400.7 783.3,400.6 785.0,400.6 786.7,401.1 788.3,400.4 790.0,400.3 791.7,400.3 793.3,400.1 795.0,400.7 796.7,400.7 798.3,400.5 800.0,400.2 801.7,400.5 803.3,400.0 805.0,399.9 806.7,399.7 808.3,399.8 810.0,399.4 811.7,399.5 813.3,399.3 815.0,399.5 816.7,399.5 818.3,399.2 820.0,399.0 821.7,398.5 823.3,398.8 825.0,398.8 826.7,398.5 828.3,397.9 830.0,397.8 831.7,398.1 833.3,398.1 835.0,397.8 836.7,397.6 838.3,397.7 840.0,397.3 841.7,397.4 843.3,396.7 845.0,396.8 846.7,397.0 848.4,396.9 850.1,396.3 851.7,396.3 853.4,396.3 855.1,396.7 856.8,396.4 858.6,396.7 860.5,396.4 862.3,397.2 864.2,397.0 866.0,397.4 867.8,398.0 869.6,397.8 871.4,398.0 873.2,398.5 875.0,399.0 876.6,399.2 878.2,399.4 879.9,399.8 881.5,399.6 883.1,400.0 884.8,400.1 886.4,401.2 888.0,401.0 889.7,401.1 891.4,401.0 893.1,401.0 894.9,401.4 896.6,401.0 898.3,401.2 900.0,401.6 901.7,401.8 903.3,401.7 905.0,401.8 906.7,402.0 908.3,401.5 910.0,401.9 911.7,402.0 913.3,402.0 915.0,401.8 916.7,402.0 918.3,401.4 920.0,401.8 921.7,401.5 923.3,401.8 925.0,401.8 926.7,401.8 928.3,401.6 930.0,401.2 931.7,401.5 933.3,401.3 935.0,401.7 936.7,401.3 938.3,401.8 940.0,401.5 941.7,401.3 943.3,401.0 945.0,401.0 946.7,401.0 948.3,400.3 950.0,400.2 951.7,399.2 953.5,399.3 955.2,398.3 956.1,396.3 957.1,395.1 958.0,393.0 959.0,391.5 959.9,389.9 960.9,388.7 961.8,386.6 962.8,385.4 964.5,384.9 966.3,383.6 968.0,383.0 970.1,382.9 972.1,382.7 974.2,381.9 976.2,382.3 978.2,382.0 980.1,382.7 982.1,382.4 983.7,383.5 985.3,384.4 986.9,385.6 988.5,385.8 990.0,386.0 991.6,386.7 992.9,387.9 994.3,388.7 995.6,389.8 997.4,389.1 999.3,388.6 1001.1,387.5 1003.1,387.3 1005.0,386.7 1007.0,387.0 1008.7,387.0 1010.4,386.5 1012.1,386.9 1013.8,386.7 1015.4,387.2 1017.0,387.7 1018.5,388.3 1020.1,388.7 1021.5,389.6 1022.9,391.1 1024.4,392.2 1025.8,393.5 1027.2,395.0 1028.9,394.9 1030.7,395.2 1032.4,396.0 1034.2,396.4 1035.9,396.2 1037.5,397.1 1039.1,398.0 1040.7,398.1 1042.3,399.3 1044.1,399.4 1046.0,400.0 1047.8,400.5 1049.6,400.0 1051.5,401.1 1053.3,400.9 1054.9,401.1 1056.5,400.1 1058.1,400.1 1059.6,400.4 1061.2,399.6 1062.8,399.2 1064.4,399.3 1066.3,399.5 1068.2,399.6 1070.1,399.8 1072.0,399.4 1073.9,399.8 1075.7,400.7 1077.6,401.3 1079.4,402.5 1081.2,402.3 1083.0,401.7 1084.7,401.1 1086.5,400.1 1088.1,399.4 1089.7,399.1 1091.3,399.0"/>
<polyline points="748.7,404.6 750.3,404.3 751.9,404.5 753.5,404.8 755.2,404.4 756.8,404.2 758.4,403.9 760.0,404.0 761.7,403.5 763.3,404.2 765.0,403.8 766.7,403.2 768.3,403.4 770.0,403.2 771.7,403.3 773.3,403.5 775.0,402.8 776.7,402.8 778.3,402.6 780.0,402.9 781.7,403.2 783.3,403.0 785.0,402.4 786.7,402.5 788.3,402.2 790.0,402.2 791.7,402.5 793.3,402.1 795.0,402.2 796.7,402.1 798.3,402.2 800.0,402.2 801.7,402.4 803.4,401.7 805.1,401.8 806.8,401.5 808.5,401.2 810.2,401.1 811.8,401.4 813.5,401.3 815.2,401.0 816.9,401.0 818.6,400.7 820.3,400.2 822.0,400.2 823.6,399.8 825.3,399.9 826.9,399.8 828.5,399.8 830.2,399.7 831.8,399.4 833.5,399.4 835.1,399.0 836.7,398.8 838.4,398.7 840.0,398.3 841.6,398.2 843.2,398.3 844.8,398.3 846.4,397.9 848.0,397.6 849.6,397.5 851.2,397.6 852.8,397.5 854.4,397.3 856.0,397.2 857.7,397.3 859.4,397.8 861.1,398.0 862.9,398.4 864.6,398.6 866.3,398.0 868.0,398.6 869.7,398.7 871.4,399.3 873.1,399.3 874.9,399.6 876.6,399.5 878.3,399.9 880.0,400.2 881.7,400.7 883.3,400.6 885.0,400.9 886.7,401.1 888.3,401.2 890.0,401.3 891.7,401.5 893.3,401.6 895.0,401.8 896.7,401.5 898.3,401.6 900.0,401.8 901.7,401.8 903.3,402.1 905.0,402.3 906.7,402.1 908.3,401.9 910.0,401.6 911.7,401.7 913.3,401.7 915.0,401.8 916.7,401.7 918.3,402.1 920.0,402.2 921.7,402.0 923.3,402.5 925.0,401.8 926.7,401.7 928.3,402.4 930.0,402.3 931.7,401.9 933.3,401.9 935.0,401.7 936.7,401.7 938.3,401.5 940.0,401.7 941.7,401.1 943.3,401.6 945.0,401.2 946.7,400.9 948.3,400.0 950.0,400.0 951.7,399.8 953.4,398.9 955.0,399.1 956.7,398.6 958.5,398.7 960.4,399.7 962.2,399.8 964.0,400.6 966.0,401.4 967.9,401.7 969.8,401.6 971.8,402.0 973.8,402.2 975.8,401.7 977.2,401.0 978.6,399.5 980.1,399.1 981.5,398.2 982.9,396.9 984.6,396.5 986.3,396.8 988.0,396.3 989.6,395.9 991.3,396.1 993.0,396.0 994.6,395.6 996.2,396.1 997.8,395.9 999.5,395.4 1001.1,395.5 1002.7,395.1 1004.3,395.4 1006.2,394.3 1008.1,393.6 1010.0,392.5 1011.4,391.9 1012.7,391.2 1014.0,390.0 1015.4,389.0 1016.7,387.7 1018.0,386.9 1019.4,385.5 1020.7,384.5 1022.0,383.0 1023.2,381.7 1024.4,381.0 1025.6,379.2 1026.8,378.3 1028.0,377.2 1029.3,375.7 1030.7,374.6 1032.0,373.5 1033.5,372.3 1035.1,370.8 1036.8,371.8 1038.5,372.0 1040.4,372.4 1042.3,373.7 1043.7,374.9 1045.0,375.8 1046.4,377.5 1047.8,378.4 1049.6,378.5 1051.3,378.6 1053.1,378.5 1054.9,378.0 1056.7,378.5 1058.5,378.5 1060.2,379.2 1062.0,379.4 1063.8,379.8 1065.5,380.0 1067.3,380.3 1069.1,381.1 1070.5,382.3 1072.0,382.6 1073.4,383.2 1074.9,384.0 1076.3,384.8 1077.8,385.9 1079.4,385.8 1081.1,386.6 1082.7,386.7 1084.4,386.8 1086.0,387.2 1087.7,387.2 1089.4,387.4 1091.1,387.8 1092.8,388.1 1094.5,388.2 1095.8,388.7 1097.1,390.0 1098.5,391.3 1099.8,392.1 1101.1,392.9 1102.4,393.8 1104.0,394.0 1105.6,394.3 1107.2,394.4 1108.7,394.9 1110.3,395.0 1111.9,395.7 1113.9,394.9 1116.0,394.6 1118.0,394.5 1119.8,394.6 1121.7,394.2 1123.5,393.0 1125.3,393.0 1127.1,393.5 1128.8,393.9 1130.6,394.7 1132.4,395.4 1133.4,396.7 1134.4,397.7 1135.4,399.1 1136.4,400.4 1137.9,399.4 1139.5,398.9 1141.0,398.2 1142.9,397.1 1144.7,396.4 1146.6,395.7 1148.4,394.7 1150.2,393.7 1152.0,393.0 1153.9,392.1 1155.8,391.5 1157.7,390.3 1159.5,390.6 1161.2,391.3 1163.0,391.1 1164.8,391.7 1166.9,391.1 1169.0,390.2 1171.2,389.9 1173.5,389.0 1175.2,389.8 1177.0,389.8 1179.1,391.4"/>
</g>
<rect x="538.1" y="113" width="1.8" height="308" fill="#505055"/><rect x="540" y="422.1" width="640" height="2" fill="#505055"/><rect x="537" y="113" width="3" height="6.5" fill="#000"/><rect x="537" y="413.1" width="3" height="7.8" fill="#000"/><rect x="540" y="422.1" width="8.1" height="2.8" fill="#000"/><rect x="1172.5" y="422.1" width="7.8" height="2.8" fill="#000"/>
<g stroke="#000" stroke-width="1"><line x1="534.0" x2="539.8" y1="418.5" y2="418.5"/><line x1="532.0" x2="539.8" y1="407.5" y2="407.5"/><line x1="534.0" x2="539.8" y1="396.5" y2="396.5"/><line x1="534.0" x2="539.8" y1="384.5" y2="384.5"/><line x1="534.0" x2="539.8" y1="373.5" y2="373.5"/><line x1="534.0" x2="539.8" y1="362.5" y2="362.5"/><line x1="532.0" x2="539.8" y1="351.5" y2="351.5"/><line x1="534.0" x2="539.8" y1="340.5" y2="340.5"/><line x1="534.0" x2="539.8" y1="329.5" y2="329.5"/><line x1="534.0" x2="539.8" y1="318.5" y2="318.5"/><line x1="534.0" x2="539.8" y1="307.5" y2="307.5"/><line x1="532.0" x2="539.8" y1="296.5" y2="296.5"/><line x1="534.0" x2="539.8" y1="285.5" y2="285.5"/><line x1="534.0" x2="539.8" y1="274.5" y2="274.5"/><line x1="534.0" x2="539.8" y1="263.5" y2="263.5"/><line x1="534.0" x2="539.8" y1="252.5" y2="252.5"/><line x1="532.0" x2="539.8" y1="241.5" y2="241.5"/><line x1="534.0" x2="539.8" y1="230.5" y2="230.5"/><line x1="534.0" x2="539.8" y1="219.5" y2="219.5"/><line x1="534.0" x2="539.8" y1="208.5" y2="208.5"/><line x1="534.0" x2="539.8" y1="197.5" y2="197.5"/><line x1="532.0" x2="539.8" y1="186.5" y2="186.5"/><line x1="534.0" x2="539.8" y1="175.5" y2="175.5"/><line x1="534.0" x2="539.8" y1="163.5" y2="163.5"/><line x1="534.0" x2="539.8" y1="152.5" y2="152.5"/><line x1="534.0" x2="539.8" y1="141.5" y2="141.5"/><line x1="532.0" x2="539.8" y1="130.5" y2="130.5"/><line x1="534.0" x2="539.8" y1="119.5" y2="119.5"/><line x1="563.5" x2="563.5" y1="422.2" y2="427.90000000000003"/><line x1="594.5" x2="594.5" y1="422.2" y2="427.90000000000003"/><line x1="625.5" x2="625.5" y1="422.2" y2="429.90000000000003"/><line x1="656.5" x2="656.5" y1="422.2" y2="427.90000000000003"/><line x1="687.5" x2="687.5" y1="422.2" y2="427.90000000000003"/><line x1="717.5" x2="717.5" y1="422.2" y2="427.90000000000003"/><line x1="748.5" x2="748.5" y1="422.2" y2="427.90000000000003"/><line x1="779.5" x2="779.5" y1="422.2" y2="429.90000000000003"/><line x1="810.5" x2="810.5" y1="422.2" y2="427.90000000000003"/><line x1="841.5" x2="841.5" y1="422.2" y2="427.90000000000003"/><line x1="871.5" x2="871.5" y1="422.2" y2="427.90000000000003"/><line x1="902.5" x2="902.5" y1="422.2" y2="427.90000000000003"/><line x1="933.5" x2="933.5" y1="422.2" y2="429.90000000000003"/><line x1="964.5" x2="964.5" y1="422.2" y2="427.90000000000003"/><line x1="995.5" x2="995.5" y1="422.2" y2="427.90000000000003"/><line x1="1025.5" x2="1025.5" y1="422.2" y2="427.90000000000003"/><line x1="1056.5" x2="1056.5" y1="422.2" y2="427.90000000000003"/><line x1="1087.5" x2="1087.5" y1="422.2" y2="429.90000000000003"/><line x1="1118.5" x2="1118.5" y1="422.2" y2="427.90000000000003"/><line x1="1149.5" x2="1149.5" y1="422.2" y2="427.90000000000003"/><line x1="1179.5" x2="1179.5" y1="422.2" y2="427.90000000000003"/></g>
<rect x="1194.75" y="116.75" width="229.5" height="161.5" fill="#fff" stroke="#555" stroke-width="1.5"/>
<line x1="1195.5" x2="1423.5" y1="143.5" y2="143.5" stroke="#a8a8a8" stroke-width="1"/>
<rect x="1406" y="130" width="10" height="1.2" fill="#111"/>
<rect x="1198" y="149.3" width="12" height="12" fill="#2dc42d"/>
<rect x="1198" y="165.3" width="12" height="12" fill="#2dc42d"/>
<rect x="1198" y="181.3" width="12" height="12" fill="#2dc42d"/>
<rect x="1198" y="197.3" width="12" height="12" fill="#2dc42d"/>
<rect x="1198" y="213.3" width="12" height="12" fill="#2dc42d"/>
<rect x="1198" y="229.3" width="12" height="12" fill="#2dc42d"/>
<rect x="1198" y="245.3" width="12" height="12" fill="#2dc42d"/>
<rect x="1198" y="261.3" width="12" height="12" fill="#2dc42d"/>
</svg>
<div class="t" style="left:517px;top:400px;font-size:14.6px;color:#111;transform:translate(0.52px,0.18px) scaleX(1.1439);">0</div>
<div class="t" style="left:517px;top:344px;font-size:14.6px;color:#111;transform:translate(0.42px,0.08px) scaleX(1.1680);">5</div>
<div class="t" style="left:508px;top:288px;font-size:14.6px;color:#111;transform:translate(0.46px,0.98px) scaleX(1.1301);">10</div>
<div class="t" style="left:508px;top:234px;font-size:14.6px;color:#111;transform:translate(0.46px,0.08px) scaleX(1.1358);">15</div>
<div class="t" style="left:508px;top:179px;font-size:14.6px;color:#111;transform:translate(0.90px,0.08px) scaleX(1.1026);">20</div>
<div class="t" style="left:508px;top:123px;font-size:14.6px;color:#111;transform:translate(0.89px,0.08px) scaleX(1.1080);">25</div>
<div class="t" style="left:612px;top:440px;font-size:14.6px;color:#111;transform:translate(0.31px,0.38px) scaleX(1.0836);">100</div>
<div class="t" style="left:766px;top:440px;font-size:14.6px;color:#111;transform:translate(0.14px,0.38px) scaleX(1.1141);">200</div>
<div class="t" style="left:920px;top:440px;font-size:14.6px;color:#111;transform:translate(0.39px,0.38px) scaleX(1.1036);">300</div>
<div class="t" style="left:1074px;top:440px;font-size:14.6px;color:#111;transform:translate(0.63px,0.38px) scaleX(1.0933);">400</div>
<div class="t" style="left:794px;top:455px;font-size:18.8px;color:#5263a8;transform:translate(0.21px,0.63px) scaleX(1.0245);">Frequency (Hz)</div>
<div class="abs" style="left:489.65px;top:265.8px;width:0;height:0;transform:rotate(-90deg)"><div class="t" style="left:-70px;top:-10px;font-size:18.8px;color:#5263a8;transform:translate(0.85px,0.83px) scaleX(1.0304);">Acceleration (G)</div></div>
<div class="t" style="left:1206px;top:123px;font-size:14px;color:#111;transform:translate(0.60px,0.57px) scaleX(0.8793);">Traces</div>
<div class="t" style="left:1211px;top:148px;font-size:14px;color:#111;transform:translate(0.67px,0.47px) scaleX(0.9607);">Envelope accelerated (Order 3)</div>
<div class="t" style="left:1211px;top:164px;font-size:14px;color:#111;transform:translate(0.67px,0.47px) scaleX(0.9607);">Envelope accelerated (Order 5)</div>
<div class="t" style="left:1211px;top:180px;font-size:14px;color:#111;transform:translate(0.68px,0.47px) scaleX(0.9566);">Envelope accelerated (Order 5.5)</div>
<div class="t" style="left:1211px;top:196px;font-size:14px;color:#111;transform:translate(0.67px,0.47px) scaleX(0.9607);">Envelope accelerated (Order 6)</div>
<div class="t" style="left:1211px;top:212px;font-size:14px;color:#111;transform:translate(0.67px,0.47px) scaleX(0.9607);">Envelope accelerated (Order 7)</div>
<div class="t" style="left:1211px;top:228px;font-size:14px;color:#111;transform:translate(0.68px,0.47px) scaleX(0.9566);">Envelope accelerated (Order 7.5)</div>
<div class="t" style="left:1211px;top:244px;font-size:14px;color:#111;transform:translate(0.68px,0.47px) scaleX(0.9560);">Envelope accelerated (Order 10.5)</div>
<div class="t" style="left:1211px;top:260px;font-size:14px;color:#111;transform:translate(0.67px,0.47px) scaleX(0.9598);">Envelope accelerated (Order 12)</div>
<div class="abs" style="left:479px;top:491px;width:965.5px;height:385px;background:#f1f1f1;box-shadow:1px 1px 3px rgba(0,0,0,.5)"></div>
<div class="abs" style="left:479px;top:490px;width:965.5px;height:34px;background:#636466;box-shadow:0 2px 4px rgba(0,0,0,.45)"></div>
<div class="t" style="left:1012px;top:502px;font-size:14px;color:#fff;transform:translate(0.42px,0.17px) scaleX(1.0035);">Order Number</div>
<div class="abs" style="left:1115px;top:494px;width:62px;height:28px;background:#fff;border:1px solid #333"></div>
<div class="t" style="left:1124px;top:500px;font-size:14.6px;color:#111;transform:translate(0.16px,0.88px) scaleX(0.9913);">13</div>
<div class="abs" style="left:1183px;top:494px;width:64px;height:28px;border:1px solid #d8d8d8;border-radius:3px"></div>
<div class="t" style="left:1197px;top:502px;font-size:14px;color:#fff;transform:translate(0.60px,0.27px) scaleX(0.9899);">Insert</div>
<div class="t" style="left:1262px;top:501px;font-size:14px;color:#fff;transform:translate(0.85px,0.57px) scaleX(0.9490);">Accelerated values</div>
<div class="tog on" style="left:1379px;top:495px;border-color:#fff"><i></i></div>
<div class="abs" style="left:771px;top:530px;width:1px;height:27px;background:#dcdcdc"></div>
<div class="abs" style="left:772px;top:530px;width:1px;height:27px;background:#fff"></div>
<div class="abs" style="left:873px;top:530px;width:1px;height:27px;background:#dcdcdc"></div>
<div class="abs" style="left:874px;top:530px;width:1px;height:27px;background:#fff"></div>
<div class="abs" style="left:987px;top:530px;width:1px;height:27px;background:#dcdcdc"></div>
<div class="abs" style="left:988px;top:530px;width:1px;height:27px;background:#fff"></div>
<div class="abs" style="left:1079px;top:530px;width:1px;height:27px;background:#dcdcdc"></div>
<div class="abs" style="left:1080px;top:530px;width:1px;height:27px;background:#fff"></div>
<div class="abs" style="left:1192px;top:530px;width:1px;height:27px;background:#dcdcdc"></div>
<div class="abs" style="left:1193px;top:530px;width:1px;height:27px;background:#fff"></div>
<div class="abs" style="left:1305px;top:530px;width:1px;height:27px;background:#dcdcdc"></div>
<div class="abs" style="left:1306px;top:530px;width:1px;height:27px;background:#fff"></div>
<div class="abs" style="left:1424px;top:530px;width:1px;height:27px;background:#dcdcdc"></div>
<div class="abs" style="left:1425px;top:530px;width:1px;height:27px;background:#fff"></div>
<div class="abs" style="left:479px;top:557px;width:965.5px;height:1px;background:#e4e4e4"></div>
<div class="abs" style="left:596px;top:530px;width:88px;height:28px;background:#77a697;border-left:1px solid #8fd0ee;border-bottom:1px solid #8fd0ee"></div>
<div class="abs" style="left:684px;top:530px;width:1px;height:28px;background:#fff"></div>
<div class="abs" style="left:595px;top:530px;width:1px;height:28px;background:#f8f8f8"></div>
<div class="t" style="left:493px;top:535px;font-size:14px;color:#151515;transform:translate(0.64px,0.47px) scaleX(0.9607);">Segment Table</div>
<div class="t" style="left:609px;top:535px;font-size:14px;color:#151515;transform:translate(0.32px,0.47px) scaleX(1.0015);">Order #</div>
<div class="t" style="left:705px;top:535px;font-size:14px;color:#151515;transform:translate(0.35px,0.47px) scaleX(0.9593);">Q Value</div>
<div class="t" style="left:781px;top:535px;font-size:14px;color:#151515;transform:translate(0.57px,0.47px) scaleX(0.9623);">Min Freq. (Hz)</div>
<div class="t" style="left:887px;top:535px;font-size:14px;color:#151515;transform:translate(0.99px,0.47px) scaleX(0.9484);">Max Freq. (Hz)</div>
<div class="t" style="left:998px;top:535px;font-size:14px;color:#151515;transform:translate(0.68px,0.47px) scaleX(0.9560);">Pk Amp. (G)</div>
<div class="t" style="left:1095px;top:535px;font-size:14px;color:#151515;transform:translate(0.27px,0.47px) scaleX(0.9620);">Pk Amp. Freq.</div>
<div class="t" style="left:1208px;top:535px;font-size:14px;color:#151515;transform:translate(0.09px,0.47px) scaleX(0.9429);">Peak Vel (in/s)</div>
<div class="t" style="left:1325px;top:535px;font-size:14px;color:#151515;transform:translate(0.61px,0.47px) scaleX(0.9295);">Peak Vel Freq</div>
<svg class="abs" style="left:670px;top:543px" width="9" height="4"><path d="M0.5 3.7 L4.3 0.2 L8.1 3.7 Z" fill="#d3e2dc"/></svg>
<div class="abs" style="left:684px;top:558px;width:1px;height:264px;background:#fff"></div>
<div class="abs" style="left:772px;top:558px;width:1px;height:264px;background:#fff"></div>
<div class="abs" style="left:874px;top:558px;width:1px;height:264px;background:#fff"></div>
<div class="abs" style="left:988px;top:558px;width:1px;height:264px;background:#fff"></div>
<div class="abs" style="left:1080px;top:558px;width:1px;height:264px;background:#fff"></div>
<div class="abs" style="left:1193px;top:558px;width:1px;height:264px;background:#fff"></div>
<div class="abs" style="left:1306px;top:558px;width:1px;height:264px;background:#fff"></div>
<div class="abs" style="left:1425px;top:558px;width:1px;height:264px;background:#fff"></div>
<div class="abs" style="left:596px;top:590px;width:848.5px;height:1px;background:#fff"></div>
<div class="btn" style="left:485px;top:560px;width:106px;height:28px"></div>
<div class="t" style="left:509px;top:568px;font-size:14px;color:#111;transform:translate(0.66px,0.17px) scaleX(0.9731);">Edit Tone</div>
<div class="t" style="left:636px;top:567px;font-size:14.5px;color:#222;transform:translate(0.01px,0.92px) scaleX(1.0000);">3</div>
<div class="t" style="left:713px;top:567px;font-size:14.5px;color:#222;transform:translate(0.86px,0.92px) scaleX(1.0000);">5.20</div>
<div class="t" style="left:804px;top:567px;font-size:14.5px;color:#222;transform:translate(0.98px,0.92px) scaleX(1.0000);">45.00</div>
<div class="t" style="left:909px;top:567px;font-size:14.5px;color:#222;transform:translate(0.07px,0.92px) scaleX(1.0000);">115.00</div>
<div class="t" style="left:1019px;top:567px;font-size:14.5px;color:#222;transform:translate(0.97px,0.92px) scaleX(1.0000);">3.37</div>
<div class="t" style="left:1124px;top:567px;font-size:14.5px;color:#222;transform:translate(0.21px,0.92px) scaleX(1.0000);">102</div>
<div class="t" style="left:1235px;top:567px;font-size:14.5px;color:#222;transform:translate(0.33px,0.92px) scaleX(1.0000);">2.58</div>
<div class="t" style="left:1357px;top:567px;font-size:14.5px;color:#222;transform:translate(0.60px,0.92px) scaleX(1.0000);">45</div>
<div class="abs" style="left:596px;top:623px;width:848.5px;height:1px;background:#fff"></div>
<div class="btn" style="left:485px;top:593px;width:106px;height:28px"></div>
<div class="t" style="left:509px;top:601px;font-size:14px;color:#111;transform:translate(0.66px,0.17px) scaleX(0.9731);">Edit Tone</div>
<div class="t" style="left:635px;top:600px;font-size:14.5px;color:#222;transform:translate(0.98px,0.92px) scaleX(1.0000);">5</div>
<div class="t" style="left:709px;top:600px;font-size:14.5px;color:#222;transform:translate(0.80px,0.92px) scaleX(1.0000);">21.38</div>
<div class="t" style="left:804px;top:600px;font-size:14.5px;color:#222;transform:translate(0.77px,0.92px) scaleX(1.0000);">75.00</div>
<div class="t" style="left:908px;top:600px;font-size:14.5px;color:#222;transform:translate(0.60px,0.92px) scaleX(1.0000);">191.67</div>
<div class="t" style="left:1019px;top:600px;font-size:14.5px;color:#222;transform:translate(0.86px,0.92px) scaleX(1.0000);">7.77</div>
<div class="t" style="left:1124px;top:600px;font-size:14.5px;color:#222;transform:translate(0.21px,0.92px) scaleX(1.0000);">171</div>
<div class="t" style="left:1235px;top:600px;font-size:14.5px;color:#222;transform:translate(0.36px,0.92px) scaleX(1.0000);">2.79</div>
<div class="t" style="left:1353px;top:600px;font-size:14.5px;color:#222;transform:translate(0.21px,0.92px) scaleX(1.0000);">171</div>
<div class="abs" style="left:596px;top:656px;width:848.5px;height:1px;background:#fff"></div>
<div class="btn" style="left:485px;top:626px;width:106px;height:28px"></div>
<div class="t" style="left:509px;top:634px;font-size:14px;color:#111;transform:translate(0.66px,0.17px) scaleX(0.9731);">Edit Tone</div>
<div class="t" style="left:629px;top:633px;font-size:14.5px;color:#222;transform:translate(0.92px,0.92px) scaleX(1.0000);">5.5</div>
<div class="t" style="left:709px;top:633px;font-size:14.5px;color:#222;transform:translate(0.80px,0.92px) scaleX(1.0000);">22.46</div>
<div class="t" style="left:804px;top:633px;font-size:14.5px;color:#222;transform:translate(0.84px,0.92px) scaleX(1.0000);">82.50</div>
<div class="t" style="left:908px;top:633px;font-size:14.5px;color:#222;transform:translate(0.74px,0.92px) scaleX(1.0000);">210.83</div>
<div class="t" style="left:1025px;top:633px;font-size:14.5px;color:#222;transform:translate(0.73px,0.92px) scaleX(1.0000);">12</div>
<div class="t" style="left:1124px;top:633px;font-size:14.5px;color:#222;transform:translate(0.17px,0.92px) scaleX(1.0000);">173</div>
<div class="t" style="left:1235px;top:633px;font-size:14.5px;color:#222;transform:translate(0.54px,0.92px) scaleX(1.0000);">4.28</div>
<div class="t" style="left:1353px;top:633px;font-size:14.5px;color:#222;transform:translate(0.21px,0.92px) scaleX(1.0000);">172</div>
<div class="abs" style="left:596px;top:689px;width:848.5px;height:1px;background:#fff"></div>
<div class="btn" style="left:485px;top:659px;width:106px;height:28px"></div>
<div class="t" style="left:509px;top:667px;font-size:14px;color:#111;transform:translate(0.66px,0.17px) scaleX(0.9731);">Edit Tone</div>
<div class="t" style="left:635px;top:666px;font-size:14.5px;color:#222;transform:translate(0.90px,0.92px) scaleX(1.0000);">6</div>
<div class="t" style="left:709px;top:666px;font-size:14.5px;color:#222;transform:translate(0.62px,0.92px) scaleX(1.0000);">13.03</div>
<div class="t" style="left:804px;top:666px;font-size:14.5px;color:#222;transform:translate(0.80px,0.92px) scaleX(1.0000);">90.00</div>
<div class="t" style="left:908px;top:666px;font-size:14.5px;color:#222;transform:translate(0.71px,0.92px) scaleX(1.0000);">230.00</div>
<div class="t" style="left:1019px;top:666px;font-size:14.5px;color:#222;transform:translate(0.83px,0.92px) scaleX(1.0000);">25.3</div>
<div class="t" style="left:1124px;top:666px;font-size:14.5px;color:#222;transform:translate(0.21px,0.92px) scaleX(1.0000);">171</div>
<div class="t" style="left:1239px;top:666px;font-size:14.5px;color:#222;transform:translate(0.42px,0.92px) scaleX(1.0000);">9.1</div>
<div class="t" style="left:1353px;top:666px;font-size:14.5px;color:#222;transform:translate(0.21px,0.92px) scaleX(1.0000);">171</div>
<div class="abs" style="left:596px;top:722px;width:848.5px;height:1px;background:#fff"></div>
<div class="btn" style="left:485px;top:692px;width:106px;height:28px"></div>
<div class="t" style="left:509px;top:700px;font-size:14px;color:#111;transform:translate(0.66px,0.17px) scaleX(0.9731);">Edit Tone</div>
<div class="t" style="left:635px;top:699px;font-size:14.5px;color:#222;transform:translate(0.94px,0.92px) scaleX(1.0000);">7</div>
<div class="t" style="left:709px;top:699px;font-size:14.5px;color:#222;transform:translate(0.80px,0.92px) scaleX(1.0000);">26.88</div>
<div class="t" style="left:800px;top:699px;font-size:14.5px;color:#222;transform:translate(0.52px,0.92px) scaleX(1.0000);">105.00</div>
<div class="t" style="left:908px;top:699px;font-size:14.5px;color:#222;transform:translate(0.74px,0.92px) scaleX(1.0000);">268.33</div>
<div class="t" style="left:1019px;top:699px;font-size:14.5px;color:#222;transform:translate(0.86px,0.92px) scaleX(1.0000);">6.41</div>
<div class="t" style="left:1124px;top:699px;font-size:14.5px;color:#222;transform:translate(0.21px,0.92px) scaleX(1.0000);">172</div>
<div class="t" style="left:1235px;top:699px;font-size:14.5px;color:#222;transform:translate(0.36px,0.92px) scaleX(1.0000);">2.29</div>
<div class="t" style="left:1353px;top:699px;font-size:14.5px;color:#222;transform:translate(0.21px,0.92px) scaleX(1.0000);">171</div>
<div class="abs" style="left:596px;top:755px;width:848.5px;height:1px;background:#fff"></div>
<div class="btn" style="left:485px;top:725px;width:106px;height:28px"></div>
<div class="t" style="left:509px;top:733px;font-size:14px;color:#111;transform:translate(0.66px,0.17px) scaleX(0.9731);">Edit Tone</div>
<div class="t" style="left:629px;top:732px;font-size:14.5px;color:#222;transform:translate(0.85px,0.92px) scaleX(1.0000);">7.5</div>
<div class="t" style="left:709px;top:732px;font-size:14.5px;color:#222;transform:translate(0.62px,0.92px) scaleX(1.0000);">14.75</div>
<div class="t" style="left:801px;top:732px;font-size:14.5px;color:#222;transform:translate(0.07px,0.92px) scaleX(1.0000);">112.50</div>
<div class="t" style="left:908px;top:732px;font-size:14.5px;color:#222;transform:translate(0.71px,0.92px) scaleX(1.0000);">287.50</div>
<div class="t" style="left:1020px;top:732px;font-size:14.5px;color:#222;transform:translate(0.04px,0.92px) scaleX(1.0000);">4.16</div>
<div class="t" style="left:1124px;top:732px;font-size:14.5px;color:#222;transform:translate(0.17px,0.92px) scaleX(1.0000);">168</div>
<div class="t" style="left:1235px;top:732px;font-size:14.5px;color:#222;transform:translate(0.18px,0.92px) scaleX(1.0000);">1.52</div>
<div class="t" style="left:1353px;top:732px;font-size:14.5px;color:#222;transform:translate(0.17px,0.92px) scaleX(1.0000);">168</div>
<div class="abs" style="left:596px;top:788px;width:848.5px;height:1px;background:#fff"></div>
<div class="btn" style="left:485px;top:758px;width:106px;height:28px"></div>
<div class="t" style="left:509px;top:766px;font-size:14px;color:#111;transform:translate(0.66px,0.17px) scaleX(0.9731);">Edit Tone</div>
<div class="t" style="left:625px;top:765px;font-size:14.5px;color:#222;transform:translate(0.64px,0.92px) scaleX(1.0000);">10.5</div>
<div class="t" style="left:709px;top:765px;font-size:14.5px;color:#222;transform:translate(0.59px,0.92px) scaleX(1.0000);">17.30</div>
<div class="t" style="left:800px;top:765px;font-size:14.5px;color:#222;transform:translate(0.52px,0.92px) scaleX(1.0000);">157.50</div>
<div class="t" style="left:908px;top:765px;font-size:14.5px;color:#222;transform:translate(0.92px,0.92px) scaleX(1.0000);">402.50</div>
<div class="t" style="left:1019px;top:765px;font-size:14.5px;color:#222;transform:translate(0.93px,0.92px) scaleX(1.0000);">3.45</div>
<div class="t" style="left:1124px;top:765px;font-size:14.5px;color:#222;transform:translate(0.14px,0.92px) scaleX(1.0000);">170</div>
<div class="t" style="left:1235px;top:765px;font-size:14.5px;color:#222;transform:translate(0.14px,0.92px) scaleX(1.0000);">1.25</div>
<div class="t" style="left:1353px;top:765px;font-size:14.5px;color:#222;transform:translate(0.14px,0.92px) scaleX(1.0000);">170</div>
<div class="abs" style="left:596px;top:821px;width:848.5px;height:1px;background:#fff"></div>
<div class="btn" style="left:485px;top:791px;width:106px;height:28px"></div>
<div class="t" style="left:509px;top:799px;font-size:14px;color:#111;transform:translate(0.66px,0.17px) scaleX(0.9731);">Edit Tone</div>
<div class="t" style="left:631px;top:798px;font-size:14.5px;color:#222;transform:translate(0.74px,0.92px) scaleX(1.0000);">12</div>
<div class="t" style="left:709px;top:798px;font-size:14.5px;color:#222;transform:translate(0.62px,0.92px) scaleX(1.0000);">12.36</div>
<div class="t" style="left:800px;top:798px;font-size:14.5px;color:#222;transform:translate(0.52px,0.92px) scaleX(1.0000);">180.00</div>
<div class="t" style="left:908px;top:798px;font-size:14.5px;color:#222;transform:translate(0.92px,0.92px) scaleX(1.0000);">460.00</div>
<div class="t" style="left:1019px;top:798px;font-size:14.5px;color:#222;transform:translate(0.93px,0.92px) scaleX(1.0000);">3.25</div>
<div class="t" style="left:1124px;top:798px;font-size:14.5px;color:#222;transform:translate(0.50px,0.92px) scaleX(1.0000);">367</div>
<div class="t" style="left:1231px;top:798px;font-size:14.5px;color:#222;transform:translate(0.41px,0.92px) scaleX(1.0000);">0.545</div>
<div class="t" style="left:1353px;top:798px;font-size:14.5px;color:#222;transform:translate(0.50px,0.92px) scaleX(1.0000);">367</div>
<div class="abs" style="left:481px;top:876px;width:664px;height:2px;background:#b6b6b6"></div>
</div>
</body></html>
